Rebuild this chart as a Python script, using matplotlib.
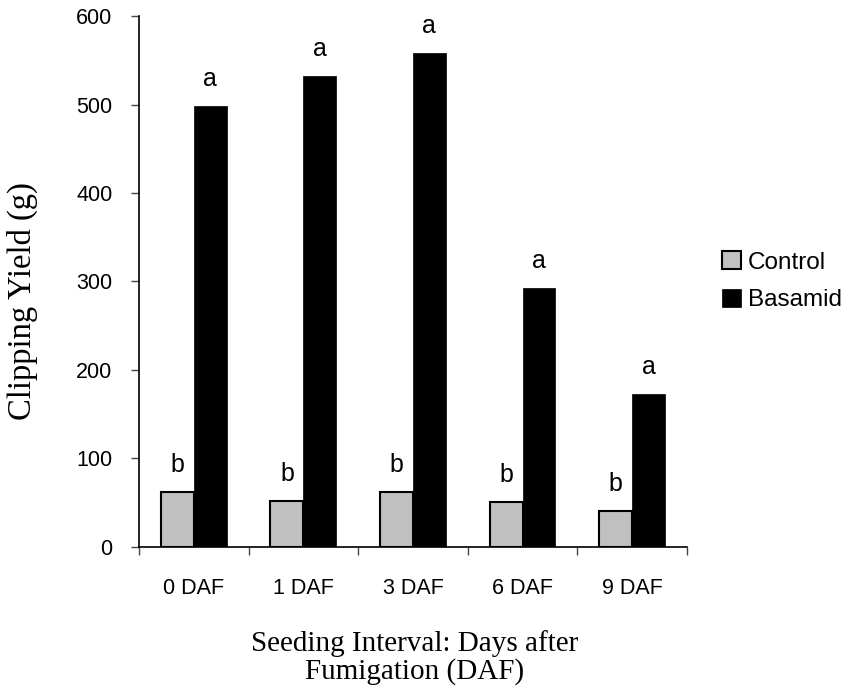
import numpy as np
import matplotlib
matplotlib.use("Agg")
import matplotlib.pyplot as plt

# values
intervals = ["0 DAF", "1 DAF", "3 DAF", "6 DAF", "9 DAF"]
control = [62, 52, 62, 51, 41]
basamid = [498, 532, 558, 293, 173]
control_letters = ["b", "b", "b", "b", "b"]
basamid_letters = ["a", "a", "a", "a", "a"]

sans = "Liberation Sans"
serif = "Liberation Serif"

fig = plt.figure(figsize=(8.51, 6.93), dpi=100)
ax = fig.add_axes([0.1633, 0.2107, 0.644, 0.7662])

x = np.arange(len(intervals)) + 0.5
w = 0.3
ax.bar(x - w / 2, control, width=w, color="#c0c0c0", edgecolor="black",
       linewidth=1.5, label="Control", zorder=2)
ax.bar(x + w / 2, basamid, width=w, color="black", edgecolor="black",
       linewidth=0.5, label="Basamid", zorder=2)

# significance letters
for xi, v, t in zip(x - w / 2, control, control_letters):
    ax.text(xi, v + 17, t, ha="center", va="bottom", fontsize=18, family=sans)
for xi, v, t in zip(x + w / 2, basamid, basamid_letters):
    ax.text(xi, v + 17, t, ha="center", va="bottom", fontsize=18, family=sans)

ax.set_xlim(0, 5)
ax.set_ylim(0, 600)
ax.set_yticks(range(0, 601, 100))
ax.set_xticks(range(0, 6))
ax.set_xticklabels([])
ax.set_xticks(x, minor=True)
ax.set_xticklabels(intervals, minor=True, fontsize=15.5, family=sans)
ax.tick_params(axis="x", which="minor", length=0, pad=22)
ax.tick_params(axis="x", which="major", length=6, width=1, color="#444")
ax.tick_params(axis="y", length=6, width=1, color="#444", pad=13, labelsize=15.5)
for lbl in ax.get_yticklabels():
    lbl.set_family(sans)

for s in ["top", "right"]:
    ax.spines[s].set_visible(False)
for s in ["left", "bottom"]:
    ax.spines[s].set_linewidth(1.2)

fig.text(22 / 851, 0.566, "Clipping Yield (g)", rotation=90, ha="center",
         va="center", fontsize=23.5, family=serif)
fig.text(0.4877, 0.0606, "Seeding Interval: Days after", ha="center",
         va="baseline", fontsize=21, family=serif)
fig.text(0.4877, 0.0202, "Fumigation (DAF)", ha="center",
         va="baseline", fontsize=21, family=serif)

fig.legend(loc="center left", bbox_to_anchor=(0.849, 0.594), frameon=False,
           prop={"family": sans, "size": 17.5}, handlelength=0.75,
           handleheight=0.75, handletextpad=0.3, labelspacing=0.62,
           borderpad=0, borderaxespad=0)

fig.savefig("out.png", dpi=100)
